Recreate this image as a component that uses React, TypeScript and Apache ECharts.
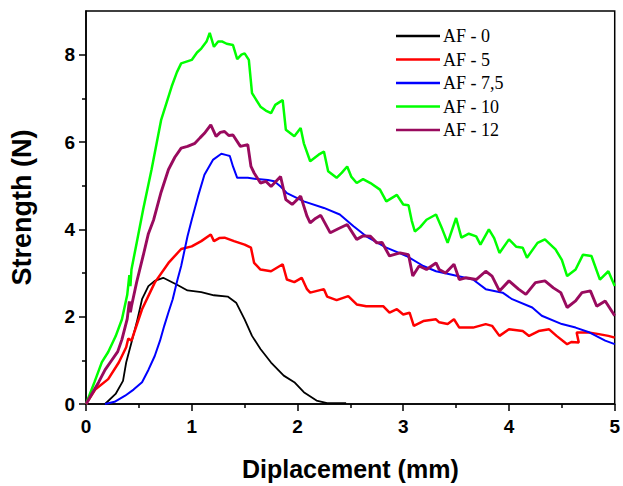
import React, { useEffect, useRef } from "react";
import * as echarts from "echarts";

const seriesNames = ["AF - 0", "AF - 5", "AF - 7,5", "AF - 10", "AF - 12"];
const seriesColors = ["#000000", "#ff0000", "#0000ff", "#00ff00", "#990a5e"];
const seriesWidths = [1.8, 2.5, 2, 2.5, 2.9];

const xTicks = [0, 1, 2, 3, 4, 5];
const yTicks = [0, 2, 4, 6, 8];

const af0 = [
  [0.18, 0], [0.28, 0.23], [0.35, 0.53], [0.38, 0.95], [0.43, 1.41], [0.48, 1.87], [0.53, 2.4],
  [0.59, 2.7], [0.65, 2.82], [0.73, 2.89], [0.87, 2.72], [0.96, 2.6], [1.09, 2.56], [1.21, 2.49],
  [1.34, 2.46], [1.42, 2.32], [1.5, 1.94], [1.57, 1.56], [1.65, 1.26], [1.75, 0.95], [1.87, 0.65],
  [1.97, 0.5], [2.06, 0.27], [2.18, 0.08], [2.28, 0.02], [2.46, 0.02],
];

const af5 = [
  [0, 0], [0.09, 0.34], [0.21, 0.57], [0.31, 0.95], [0.38, 1.3], [0.4, 1.5], [0.43, 1.45],
  [0.53, 2.17], [0.65, 2.78], [0.78, 3.23], [0.9, 3.55], [1.0, 3.61], [1.09, 3.73], [1.18, 3.88],
  [1.21, 3.73], [1.26, 3.8], [1.31, 3.81], [1.4, 3.73], [1.5, 3.65], [1.56, 3.58], [1.59, 3.23],
  [1.65, 3.08], [1.75, 3.04], [1.86, 3.2], [1.9, 2.85], [1.97, 2.79], [2.04, 2.89], [2.09, 2.63],
  [2.12, 2.55], [2.25, 2.63], [2.28, 2.46], [2.37, 2.38], [2.48, 2.47], [2.56, 2.28], [2.65, 2.24],
  [2.81, 2.24], [2.87, 2.09], [2.94, 2.17], [3.0, 2.05], [3.06, 2.09], [3.1, 1.79], [3.19, 1.9],
  [3.31, 1.94], [3.34, 1.87], [3.42, 1.83], [3.48, 1.94], [3.53, 1.75], [3.66, 1.75], [3.78, 1.83],
  [3.84, 1.79], [3.91, 1.56], [4.0, 1.71], [4.13, 1.67], [4.19, 1.56], [4.28, 1.67], [4.38, 1.71],
  [4.45, 1.56], [4.55, 1.37], [4.59, 1.42], [4.66, 1.41], [4.64, 1.64], [4.75, 1.64], [4.85, 1.6],
  [4.94, 1.56], [5.0, 1.52],
];

const af75 = [
  [0.18, 0], [0.27, 0.05], [0.37, 0.19], [0.45, 0.33], [0.53, 0.5], [0.59, 0.78], [0.65, 1.1],
  [0.7, 1.45], [0.74, 1.79], [0.78, 2.1], [0.82, 2.4], [0.86, 2.8], [0.9, 3.16], [0.96, 3.84],
  [1.0, 4.22], [1.06, 4.76], [1.12, 5.25], [1.2, 5.59], [1.28, 5.73], [1.33, 5.7], [1.36, 5.68],
  [1.39, 5.44], [1.43, 5.18], [1.53, 5.18], [1.62, 5.15], [1.72, 5.13], [1.78, 5.1], [1.84, 4.98],
  [1.9, 4.83], [2.06, 4.64], [2.25, 4.49], [2.4, 4.34], [2.53, 4.07], [2.65, 3.84], [2.84, 3.58],
  [3.03, 3.39], [3.19, 3.16], [3.31, 3.04], [3.44, 2.97], [3.66, 2.85], [3.78, 2.63], [3.94, 2.55],
  [4.03, 2.4], [4.22, 2.21], [4.31, 2.02], [4.5, 1.83], [4.63, 1.75], [4.75, 1.65], [4.91, 1.45],
  [5.0, 1.37],
];

const af10 = [
  [0, 0], [0.08, 0.5], [0.15, 0.96], [0.21, 1.19], [0.28, 1.55], [0.34, 1.94], [0.39, 2.5],
  [0.41, 2.95], [0.42, 2.7], [0.43, 3.08], [0.48, 3.7], [0.54, 4.45], [0.62, 5.37], [0.71, 6.5],
  [0.81, 7.27], [0.86, 7.6], [0.9, 7.8], [1.0, 7.88], [1.05, 8.05], [1.09, 8.14], [1.14, 8.3],
  [1.17, 8.5], [1.21, 8.18], [1.25, 8.3], [1.29, 8.3], [1.33, 8.25], [1.39, 8.22], [1.43, 7.9],
  [1.47, 8.0], [1.5, 8.03], [1.54, 7.88], [1.57, 7.12], [1.65, 6.81], [1.7, 6.72], [1.75, 6.66],
  [1.79, 6.85], [1.86, 6.96], [1.89, 6.28], [1.97, 6.13], [2.03, 6.32], [2.06, 5.97], [2.12, 5.56],
  [2.2, 5.71], [2.25, 5.78], [2.29, 5.33], [2.37, 5.18], [2.42, 5.3], [2.47, 5.44], [2.51, 5.2],
  [2.56, 5.06], [2.62, 5.15], [2.69, 5.06], [2.78, 4.91], [2.84, 4.64], [2.94, 4.79], [3.0, 4.57],
  [3.05, 4.55], [3.08, 4.2], [3.11, 3.95], [3.16, 4.05], [3.22, 4.22], [3.31, 4.34], [3.37, 4.0],
  [3.42, 3.69], [3.5, 4.26], [3.55, 3.81], [3.62, 3.9], [3.69, 3.84], [3.73, 3.65], [3.81, 4.0],
  [3.86, 3.8], [3.91, 3.46], [4.0, 3.77], [4.07, 3.6], [4.13, 3.58], [4.17, 3.35], [4.27, 3.69],
  [4.34, 3.77], [4.44, 3.54], [4.5, 3.3], [4.55, 2.93], [4.63, 3.08], [4.7, 3.42], [4.78, 3.39],
  [4.86, 2.85], [4.94, 3.04], [5.0, 2.7],
];

const af12 = [
  [0, 0], [0.06, 0.25], [0.12, 0.5], [0.18, 0.78], [0.24, 0.99], [0.3, 1.2], [0.34, 1.48],
  [0.39, 1.95], [0.41, 2.35], [0.42, 2.1], [0.43, 2.24], [0.48, 2.8], [0.54, 3.39], [0.59, 3.9],
  [0.64, 4.22], [0.71, 4.85], [0.78, 5.37], [0.84, 5.65], [0.9, 5.86], [0.96, 5.9], [1.03, 5.97],
  [1.08, 6.1], [1.12, 6.2], [1.18, 6.39], [1.23, 6.13], [1.27, 6.22], [1.31, 6.24], [1.35, 6.15],
  [1.39, 6.16], [1.46, 5.9], [1.53, 5.94], [1.56, 5.44], [1.59, 5.29], [1.65, 5.06], [1.7, 5.1],
  [1.75, 4.98], [1.84, 5.21], [1.89, 4.68], [1.95, 4.57], [2.03, 4.76], [2.09, 4.3], [2.12, 4.15],
  [2.17, 4.25], [2.22, 4.32], [2.31, 3.92], [2.4, 4.03], [2.47, 4.11], [2.56, 3.77], [2.62, 3.85],
  [2.69, 3.84], [2.75, 3.69], [2.8, 3.7], [2.87, 3.39], [2.97, 3.46], [3.05, 3.42], [3.09, 2.93],
  [3.15, 3.16], [3.22, 3.08], [3.31, 3.23], [3.34, 3.08], [3.4, 3.0], [3.48, 3.2], [3.53, 2.85],
  [3.59, 2.89], [3.69, 2.85], [3.78, 3.04], [3.84, 2.93], [3.91, 2.59], [4.0, 2.82], [4.09, 2.63],
  [4.16, 2.51], [4.25, 2.78], [4.34, 2.82], [4.42, 2.66], [4.49, 2.55], [4.55, 2.21], [4.63, 2.36],
  [4.69, 2.55], [4.77, 2.59], [4.83, 2.24], [4.91, 2.36], [5.0, 2.02],
];

const seriesData = [af0, af5, af75, af10, af12];

const sans = "Arial, 'Liberation Sans', sans-serif";
const serif = "'Times New Roman', 'Liberation Serif', serif";

export default function App() {
  const ref = useRef<HTMLDivElement>(null);

  useEffect(() => {
    if (!ref.current) return;
    const chart = echarts.init(ref.current, null, { renderer: "svg" });
    chart.setOption({
      animation: false,
      backgroundColor: "#ffffff",
      grid: {
        left: 84,
        right: 6,
        top: 11,
        bottom: 81,
        show: true,
        borderColor: "#000",
        borderWidth: 1.5,
        backgroundColor: "transparent",
      },
      legend: {
        orient: "vertical",
        left: 391,
        top: 22,
        icon: "rect",
        itemWidth: 44,
        itemHeight: 2.5,
        itemGap: 5.5,
        data: seriesNames,
        textStyle: {
          fontFamily: serif,
          fontSize: 18,
          color: "#000",
          lineHeight: 18,
          padding: [0, 0, 0, -2],
        },
      },
      xAxis: {
        type: "value",
        min: 0,
        max: 5,
        interval: 1,
        name: "Diplacement (mm)",
        nameLocation: "middle",
        nameGap: 52,
        nameTextStyle: { fontFamily: sans, fontSize: 25, fontWeight: "bold", color: "#000" },
        axisLine: { show: true, onZero: false, lineStyle: { color: "#000", width: 1.5 } },
        axisTick: { show: true, inside: false, length: 7, lineStyle: { color: "#000", width: 1.5 } },
        minorTick: { show: true, splitNumber: 2, length: 4, lineStyle: { color: "#000", width: 1.5 } },
        axisLabel: {
          fontFamily: sans,
          fontSize: 19,
          fontWeight: "bold",
          color: "#000",
          margin: 13,
          customValues: xTicks,
        },
        splitLine: { show: false },
        minorSplitLine: { show: false },
      },
      yAxis: {
        type: "value",
        min: 0,
        max: 9,
        interval: 2,
        name: "Strength (N)",
        nameLocation: "middle",
        nameGap: 51,
        nameRotate: 90,
        nameTextStyle: { fontFamily: sans, fontSize: 27, fontWeight: "bold", color: "#000" },
        axisLine: { show: true, onZero: false, lineStyle: { color: "#000", width: 1.5 } },
        axisTick: {
          show: true,
          inside: false,
          length: 7,
          customValues: yTicks,
          lineStyle: { color: "#000", width: 1.5 },
        },
        minorTick: { show: true, splitNumber: 2, length: 4, lineStyle: { color: "#000", width: 1.5 } },
        axisLabel: {
          fontFamily: sans,
          fontSize: 19,
          fontWeight: "bold",
          color: "#000",
          margin: 11,
          customValues: yTicks,
        },
        splitLine: { show: false },
        minorSplitLine: { show: false },
      },
      series: seriesNames.map((name, i) => ({
        name,
        type: "line",
        data: seriesData[i],
        showSymbol: false,
        symbol: "none",
        color: seriesColors[i],
        lineStyle: { color: seriesColors[i], width: seriesWidths[i] },
        z: 2 + i,
      })),
    });
    return () => chart.dispose();
  }, []);

  return (
    <div
      ref={ref}
      style={{ position: "fixed", left: 0, top: 0, width: 623, height: 486, background: "#fff" }}
    />
  );
}
